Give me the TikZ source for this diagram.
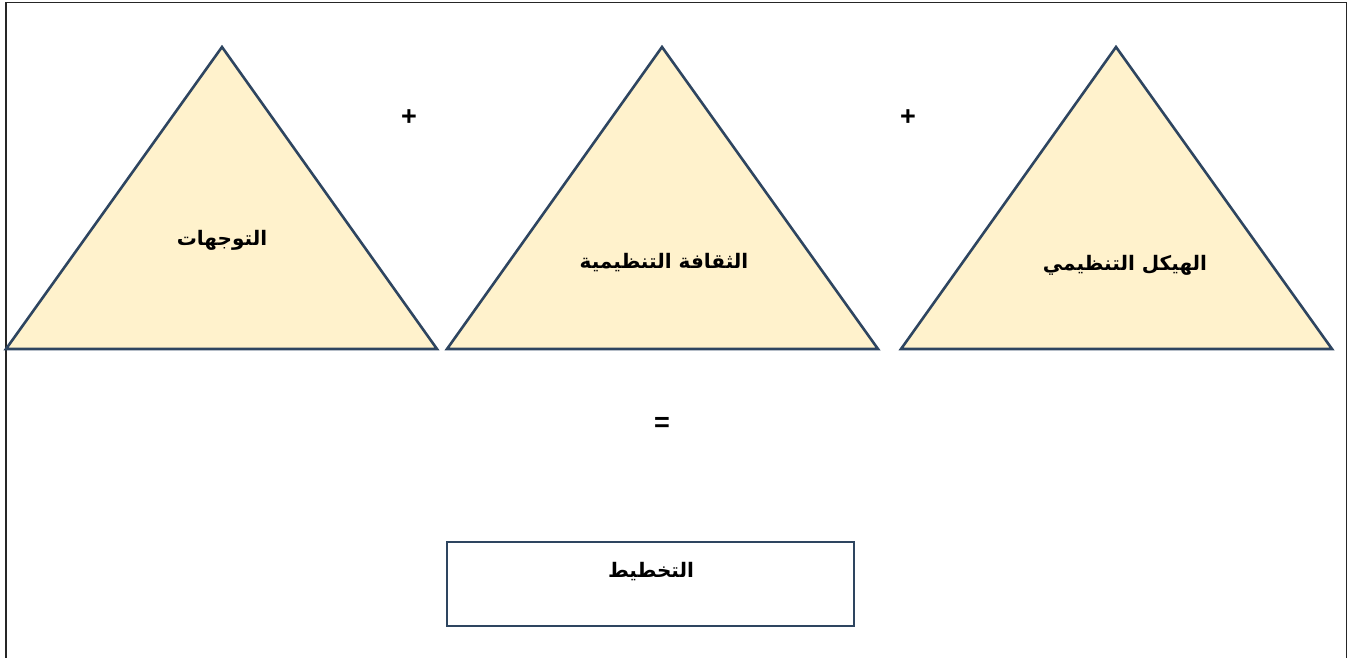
\documentclass[tikz,border=0pt]{standalone}
\usepackage{fontspec}
\setmainfont{Liberation Sans}
\newfontfamily\arabicfont[Script=Arabic]{DejaVu Sans}
\TeXXeTstate=1
\definecolor{triFill}{HTML}{FFF2CC}
\definecolor{triDraw}{HTML}{2E4560}
\begin{document}
\begin{tikzpicture}[x=1pt,y=-1pt,
  tri/.style={fill=triFill,draw=triDraw,line width=2.6pt,line join=miter},
  lbl/.style={font=\fontsize{20}{24}\selectfont\arabicfont\bfseries,inner sep=0pt},
  sym/.style={font=\fontsize{27}{30}\selectfont\bfseries,inner sep=0pt},
  box/.style={draw=triDraw,line width=2.6pt,fill=white}]
\useasboundingbox (0,0) rectangle (1351,658);
\draw[black!85,line width=1.6pt] (6,658) -- (6,2.5) -- (1346.5,2.5) -- (1346.5,658);
% triangles
\draw[tri] (6,349) -- (222,47) -- (437,349) -- cycle;
\draw[tri] (447,349) -- (662,47) -- (878,349) -- cycle;
\draw[tri] (901,349) -- (1116,47) -- (1332,349) -- cycle;
\node[lbl] (t1) at (222,240) {\beginR التوجهات\endR};
\node[lbl] (t2) at (664,263) {\beginR الثقافة التنظيمية\endR};
\node[lbl] (t3) at (1125,265) {\beginR الهيكل التنظيمي\endR};
\node[sym] (p1) at (409,118) {+};
\node[sym] (p2) at (908,118) {+};
\node[sym] (eq) at (662,424) {=};
\draw[box] (447,542) rectangle (854,626);
\node[lbl] (plan) at (651,572) {\beginR التخطيط\endR};
\end{tikzpicture}
\end{document}
